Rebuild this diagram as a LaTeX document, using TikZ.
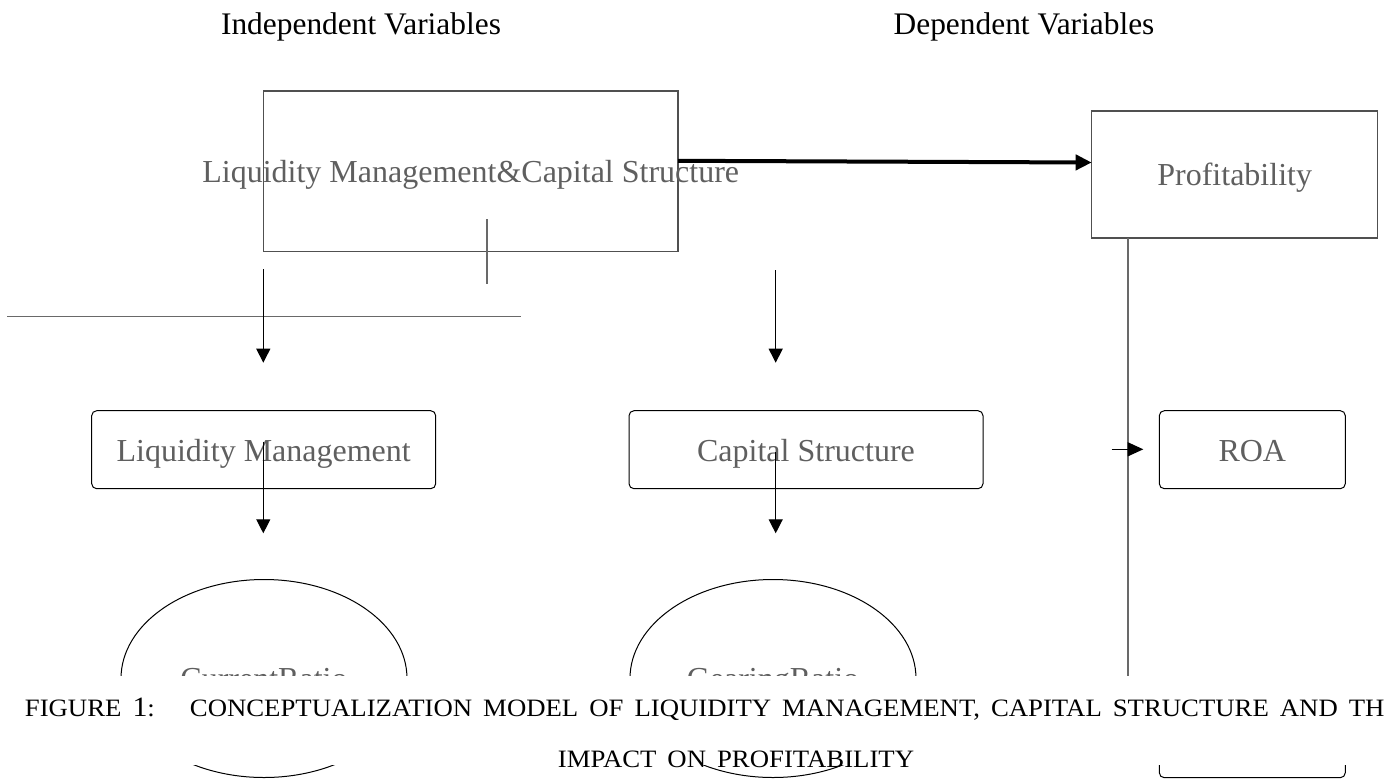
\documentclass[tikz,border=0pt]{standalone}
\usepackage{fontspec}
\setmainfont{Liberation Serif}
\newfontfamily\capfont[FakeStretch=1.07]{Liberation Serif}
\usetikzlibrary{arrows.meta,shapes.geometric}
\definecolor{txtgray}{RGB}{95,95,95}
\definecolor{linegray}{RGB}{105,105,105}
\definecolor{boxgray}{RGB}{80,80,80}
\begin{document}
\begin{tikzpicture}[x=1pt,y=-1pt,
  boxtext/.style={text=txtgray, font=\fontsize{32}{38}\selectfont, text height=22.6pt, text depth=0pt, inner sep=0pt},
  sqbox/.style={draw=boxgray, line width=1.3pt, rectangle, inner sep=0pt},
  rbox/.style={draw=black, line width=1pt, rectangle, rounded corners=5pt, inner sep=0pt},
  ovalbox/.style={draw=black, line width=1pt, ellipse, inner sep=0pt, minimum width=286pt, minimum height=198pt},
  thinarrow/.style={draw=black, line width=1.2pt, -{Triangle[length=14pt,width=14pt]}},
  greyline/.style={draw=linegray, line width=1.4pt},
  title/.style={font=\fontsize{31.4}{36}\selectfont, anchor=base, inner sep=0pt},
  captxt/.style={font=\capfont\fontsize{25}{28}\selectfont, inner sep=0pt, text=black}
]
\useasboundingbox (0,0) rectangle (1385,780);
\clip (0,0) rectangle (1385,780);

% titles
\node[title] (indep) at (361,34.5) {Independent Variables};
\node[title] (dep) at (1024,34.5) {Dependent Variables};

% top boxes
\node[sqbox, minimum width=414.7pt, minimum height=160.7pt] (big) at (470.7,171.3) {};
\node[boxtext] (bigT) at (big.center) {Liquidity Management\&Capital Structure};
\node[sqbox, boxtext, minimum width=286pt, minimum height=127pt] (prof) at (1234.7,174.5) {Profitability};

% middle boxes
\node[rbox, boxtext, minimum width=344pt, minimum height=78pt] (lm) at (263.7,449.7) {Liquidity Management};
\node[rbox, boxtext, minimum width=354pt, minimum height=78pt] (cs) at (806,449.7) {Capital Structure};
\node[rbox, boxtext, minimum width=186pt, minimum height=78pt] (roa) at (1252.3,449.7) {ROA};

% lower shapes
\node[rbox, minimum width=186pt, minimum height=78pt] (lowbox) at (1252.3,738.7) {};
\node[ovalbox, boxtext] (cr) at (264,678.5) {CurrentRatio};
\node[ovalbox, boxtext] (gr) at (773,678.5) {GearingRatio};

% coordinates
\coordinate (t1) at (678,160.8);
\coordinate (t2) at (1091.7,162.5);
\coordinate (s1) at (487,219.3);
\coordinate (s2) at (487,284.3);
\coordinate (h1) at (7.3,316.7);
\coordinate (h2) at (520.7,316.7);
\coordinate (a1s) at (263.3,269.3);
\coordinate (a1e) at (263.3,362.7);
\coordinate (a2s) at (775.7,270);
\coordinate (a2e) at (775.7,362.7);
\coordinate (a3s) at (263.3,441.7);
\coordinate (a3e) at (263.3,533.3);
\coordinate (a4s) at (775.7,452);
\coordinate (a4e) at (775.7,533.3);
\coordinate (pv1) at (1128,238);
\coordinate (pv2) at (1128,700);
\coordinate (r1) at (1111.7,449.3);
\coordinate (r2) at (1143.3,449.3);

% connectors
\draw[black, line width=4pt, -{Triangle[length=16pt,width=15pt]}] (t1) -- (t2);
\draw[greyline] (s1) -- (s2);
\draw[greyline] (h1) -- (h2);
\draw[thinarrow] (a1s) -- (a1e);
\draw[thinarrow] (a2s) -- (a2e);
\draw[thinarrow] (a3s) -- (a3e);
\draw[thinarrow] (a4s) -- (a4e);
\draw[greyline, line width=1.3pt] (pv1) -- (pv2);
\draw[black, line width=1.2pt, -{Triangle[length=15.6pt,width=14pt]}] (r1) -- (r2);

% caption band
\fill[white] (0,676) rectangle (1385,765);
\node[captxt, anchor=base west] (cap1) at (24.7,716) {\spaceskip=11pt FIGURE {\fontsize{28}{28}\selectfont 1}:\hspace{35pt}CONCEPTUALIZATION MODEL OF LIQUIDITY MANAGEMENT, CAPITAL STRUCTURE AND TH};
\node[captxt, anchor=base] (cap2) at (736,767) {\spaceskip=11pt IMPACT ON PROFITABILITY};
\end{tikzpicture}
\end{document}
